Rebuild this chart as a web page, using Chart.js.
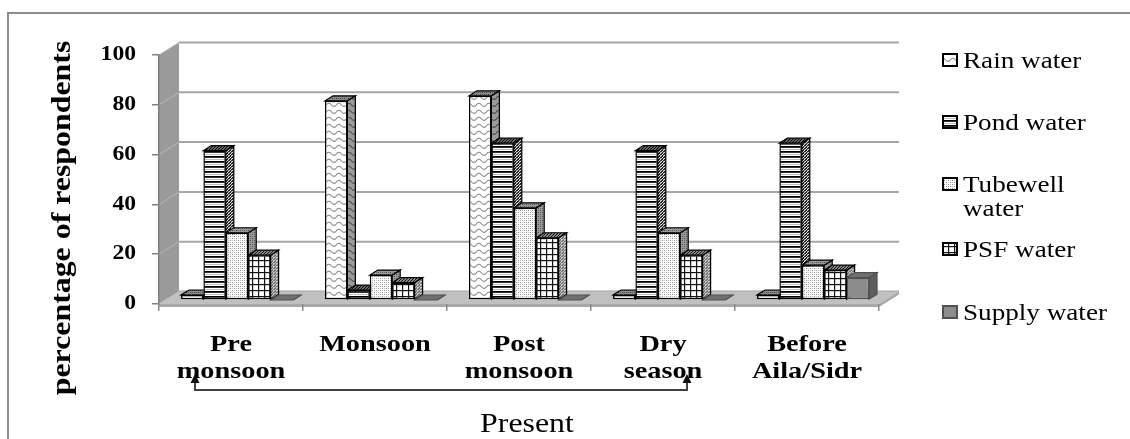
<!DOCTYPE html>
<html>
<head>
<meta charset="utf-8">
<script src="https://cdn.jsdelivr.net/npm/chart.js@4.4.1/dist/chart.umd.min.js"></script>
<style>
  html, body { margin: 0; padding: 0; background: #fff; overflow: hidden; }
  canvas { display: block; }
</style>
</head>
<body>
<canvas id="chart" width="1130" height="439"></canvas>
<script>
// ---- data ----
const categories = [['Pre', 'monsoon'], ['Monsoon'], ['Post', 'monsoon'], ['Dry', 'season'], ['Before', 'Aila/Sidr']];
const seriesNames = ['Rain water', 'Pond water', 'Tubewell water', 'PSF water', 'Supply water'];
const rainWater = [2, 80, 82, 2, 2];
const pondWater = [60, 4, 63, 60, 63];
const tubewellWater = [27, 10, 37, 27, 14];
const psfWater = [18, 7, 25, 18, 12];
const supplyWater = [0, 0, 0, 0, 9];
const yTicks = [0, 20, 40, 60, 80, 100];
const yTitle = 'percentage of respondents';
const xTitle = 'Present';

// ---- 3D geometry (pixels) ----
const FLOOR = { dx: 20, dy: -12.5 };     // depth of floor / walls
const BAR_SHIFT = { dx: 6, dy: -4 };     // bars sit a little behind the front edge
const BAR_DEPTH = { dx: 8, dy: -5 };     // visible depth of each bar
const SERIF = '"Liberation Serif", "Times New Roman", serif';
const STRETCH = 1.18;                    // wide text setting

// ---- fill patterns ----
function tile(w, h, paint) {
  const c = document.createElement('canvas');
  c.width = w; c.height = h;
  const g = c.getContext('2d');
  paint(g, w, h);
  return g.createPattern(c, 'repeat');
}
function wave(bg, fg) {
  return tile(10, 7, (g, w, h) => {
    g.fillStyle = bg; g.fillRect(0, 0, w, h);
    g.strokeStyle = fg; g.lineWidth = 1.1;
    g.beginPath();
    g.moveTo(0, 4.5);
    g.quadraticCurveTo(2.5, 0.5, 5, 3.5);
    g.quadraticCurveTo(7.5, 6.5, 10, 4.5);
    g.stroke();
  });
}
function stripes(bg, fg) {
  return tile(4, 5, (g, w, h) => {
    g.fillStyle = bg; g.fillRect(0, 0, w, h);
    g.fillStyle = fg; g.fillRect(0, 0, w, 1.8);
    g.fillStyle = '#b0b0b0'; g.fillRect(0, 3, w, 0.8);
  });
}
function stipple(bg, fg) {
  return tile(4, 4, (g, w, h) => {
    g.fillStyle = bg; g.fillRect(0, 0, w, h);
    g.fillStyle = fg;
    g.fillRect(0, 0, 1, 1); g.fillRect(2, 2, 1, 1);
    g.globalAlpha = 0.5; g.fillRect(0, 2, 1, 1); g.fillRect(2, 0, 1, 1);
  });
}
function grid(bg, fg) {
  return tile(6, 6, (g, w, h) => {
    g.fillStyle = bg; g.fillRect(0, 0, w, h);
    g.fillStyle = fg; g.fillRect(0, 0, w, 1.2); g.fillRect(0, 0, 1.2, h);
  });
}
function hatch(bg, fg, step, lw) {
  return tile(step, step, (g, w, h) => {
    g.fillStyle = bg; g.fillRect(0, 0, w, h);
    g.strokeStyle = fg; g.lineWidth = lw;
    g.beginPath();
    g.moveTo(-1, h + 1); g.lineTo(w + 1, -1);
    g.moveTo(-1, 1); g.lineTo(1, -1);
    g.moveTo(w - 1, h + 1); g.lineTo(w + 1, h - 1);
    g.stroke();
  });
}

const frontFill = [wave('#fff', '#8a8a8a'), stripes('#fff', '#000'), stipple('#fff', '#8c8c8c'), grid('#fff', '#111'), '#8c8c8c'];
const sideFill  = [wave('#9a9a9a', '#4a4a4a'), hatch('#fff', '#000', 3.5, 1.3), stipple('#9a9a9a', '#4a4a4a'), hatch('#c8c8c8', '#222', 3.5, 1), '#5e5e5e'];
const topFill   = [stipple('#8a8a8a', '#333'), hatch('#666', '#000', 3, 1), stipple('#9a9a9a', '#444'), hatch('#888', '#111', 3, 1), '#707070'];
const edgeColor = ['#000', '#000', '#000', '#000', '#505050'];

// ---- helpers ----
function poly(ctx, pts) {
  ctx.beginPath();
  ctx.moveTo(pts[0][0], pts[0][1]);
  for (let i = 1; i < pts.length; i++) ctx.lineTo(pts[i][0], pts[i][1]);
  ctx.closePath();
}
function wideText(ctx, text, x, y, font, align, sx) {
  ctx.save();
  ctx.font = font;
  ctx.translate(x, y);
  ctx.scale(sx, 1);
  ctx.textAlign = align;
  ctx.fillText(text, 0, 0);
  ctx.restore();
}

// walls, floor, 3D bar faces, labels, legend and bracket
const scenePlugin = {
  id: 'scene',
  beforeDraw(chart) {
    const { ctx, chartArea: a } = chart;
    const y = chart.scales.y;
    const { dx, dy } = FLOOR;
    const y0 = y.getPixelForValue(0), yTop = y.getPixelForValue(100);
    ctx.save();
    ctx.fillStyle = '#fff';
    ctx.fillRect(0, 0, chart.width, chart.height);
    // outer frame
    ctx.strokeStyle = '#8c8c8c'; ctx.lineWidth = 2;
    ctx.strokeRect(8, 13, chart.width + 20, chart.height + 20);
    // side wall
    ctx.fillStyle = '#9a9a9a';
    poly(ctx, [[a.left, yTop], [a.left + dx, yTop + dy], [a.left + dx, y0 + dy], [a.left, y0]]);
    ctx.fill();
    // gridlines across side wall and back wall
    for (const v of yTicks) {
      const yy = y.getPixelForValue(v);
      ctx.strokeStyle = '#b8b8b8'; ctx.lineWidth = 1;
      ctx.beginPath(); ctx.moveTo(a.left, yy); ctx.lineTo(a.left + dx, yy + dy); ctx.stroke();
      ctx.strokeStyle = '#a6a6a6'; ctx.lineWidth = 2;
      ctx.beginPath(); ctx.moveTo(a.left + dx, yy + dy); ctx.lineTo(a.right + dx, yy + dy); ctx.stroke();
    }
    // floor
    ctx.fillStyle = '#c0c0c0';
    poly(ctx, [[a.left, y0], [a.right, y0], [a.right + dx, y0 + dy], [a.left + dx, y0 + dy]]);
    ctx.fill();
    ctx.fillStyle = '#a8a8a8';
    poly(ctx, [[a.left, y0], [a.right, y0], [a.right + dx, y0 + dy], [a.right + dx, y0 + dy + 3], [a.right, y0 + 3], [a.left, y0 + 3]]);
    ctx.fill();
    ctx.restore();
  },
  beforeDatasetsDraw(chart) {
    const ctx = chart.ctx;
    ctx.save();
    ctx.translate(BAR_SHIFT.dx, BAR_SHIFT.dy);
    const metas = chart.data.datasets.map((_, i) => chart.getDatasetMeta(i));
    const { dx, dy } = BAR_DEPTH;
    ctx.lineJoin = 'miter';
    for (let j = 0; j < chart.data.labels.length; j++) {
      for (let i = 0; i < metas.length; i++) {
        const el = metas[i].data[j];
        const { x, y, base, width } = el.getProps(['x', 'y', 'base', 'width'], true);
        const x0 = x - width / 2, x1 = x + width / 2;
        ctx.strokeStyle = edgeColor[i]; ctx.lineWidth = 1.2;
        // side face
        ctx.fillStyle = sideFill[i];
        poly(ctx, [[x1, y], [x1 + dx, y + dy], [x1 + dx, base + dy], [x1, base]]);
        ctx.fill(); ctx.stroke();
        // top face
        ctx.fillStyle = topFill[i];
        poly(ctx, [[x0, y], [x1, y], [x1 + dx, y + dy], [x0 + dx, y + dy]]);
        ctx.fill(); ctx.stroke();
      }
    }
    // translation stays active while the library draws the front faces
  },
  afterDatasetsDraw(chart) {
    chart.ctx.restore();
  },
  afterDraw(chart) {
    const ctx = chart.ctx;
    const xs = chart.scales.x, ys = chart.scales.y;
    ctx.save();
    ctx.fillStyle = '#000';
    ctx.textBaseline = 'middle';
    // value labels on the y axis
    for (const t of ys.ticks) {
      wideText(ctx, String(t.value), 136, ys.getPixelForValue(t.value), 'bold 20px ' + SERIF, 'right', STRETCH);
    }
    // axis title, rotated
    ctx.save();
    ctx.translate(63, 218);
    ctx.rotate(-Math.PI / 2);
    wideText(ctx, yTitle, 0, 0, 'bold 27px ' + SERIF, 'center', STRETCH);
    ctx.restore();
    // category labels
    ctx.textBaseline = 'alphabetic';
    categories.forEach((lines, i) => {
      const cx = xs.getPixelForValue(i);
      lines.forEach((s, k) => wideText(ctx, s, cx, 351 + k * 27, 'bold 24px ' + SERIF, 'center', STRETCH));
    });
    // bracket grouping the present seasons
    const lx = xs.getPixelForValue(0) - 36, rx = xs.getPixelForValue(3) + 24;
    ctx.strokeStyle = '#404040'; ctx.lineWidth = 2;
    ctx.beginPath();
    ctx.moveTo(lx, 381); ctx.lineTo(lx, 390); ctx.lineTo(rx, 390); ctx.lineTo(rx, 381);
    ctx.stroke();
    ctx.fillStyle = '#111';
    for (const ax of [lx, rx]) {
      ctx.beginPath(); ctx.moveTo(ax, 374); ctx.lineTo(ax + 4.5, 383); ctx.lineTo(ax - 4.5, 383); ctx.closePath(); ctx.fill();
    }
    ctx.fillStyle = '#000';
    wideText(ctx, xTitle, 527, 432, '27px ' + SERIF, 'center', STRETCH);
    // legend
    const rows = [68, 130, 192, 257, 320];
    const legendFont = '23px ' + SERIF;
    ctx.font = legendFont;
    seriesNames.forEach((name, i) => {
      const by = rows[i];
      ctx.fillStyle = frontFill[i];
      ctx.fillRect(943, by - 14, 14, 12);
      ctx.strokeStyle = i === 4 ? '#505050' : '#000'; ctx.lineWidth = 2;
      ctx.strokeRect(943, by - 14, 14, 12);
      // wrap to the legend width
      const words = name.split(' ');
      const lines = [];
      let cur = '';
      for (const w of words) {
        const test = cur ? cur + ' ' + w : w;
        if (cur && ctx.measureText(test).width * STRETCH > 150) { lines.push(cur); cur = w; }
        else cur = test;
      }
      lines.push(cur);
      ctx.fillStyle = '#000';
      lines.forEach((s, k) => wideText(ctx, s, 963, by + k * 24, legendFont, 'left', STRETCH));
    });
    ctx.restore();
  }
};

const seriesValues = [rainWater, pondWater, tubewellWater, psfWater, supplyWater];

new Chart(document.getElementById('chart'), {
  type: 'bar',
  data: {
    labels: categories,
    datasets: seriesNames.map((name, i) => ({
      label: name,
      data: seriesValues[i],
      backgroundColor: frontFill[i],
      borderColor: edgeColor[i],
      borderWidth: 1.5,
      borderSkipped: false,
      barPercentage: 1,
      categoryPercentage: 0.778,
      clip: false
    }))
  },
  options: {
    responsive: false,
    animation: false,
    devicePixelRatio: 1,
    layout: { padding: { top: 55, right: 251, bottom: 0, left: 0 } },
    plugins: { legend: { display: false }, tooltip: { enabled: false } },
    scales: {
      x: {
        grid: { display: true, drawOnChartArea: false, drawTicks: true, tickLength: 7, color: '#8c8c8c', lineWidth: 1.5, offset: true },
        border: { display: false },
        ticks: { display: false },
        afterFit(scale) { scale.height = 135; }
      },
      y: {
        min: 0, max: 100,
        ticks: { display: false, stepSize: 20 },
        grid: { display: true, drawOnChartArea: false, drawTicks: true, tickLength: 7, color: '#7f7f7f', lineWidth: 1.5 },
        border: { display: true, color: '#7f7f7f', width: 1.5 },
        afterFit(scale) { scale.width = 159; }
      }
    }
  },
  plugins: [scenePlugin]
});
</script>
</body>
</html>
